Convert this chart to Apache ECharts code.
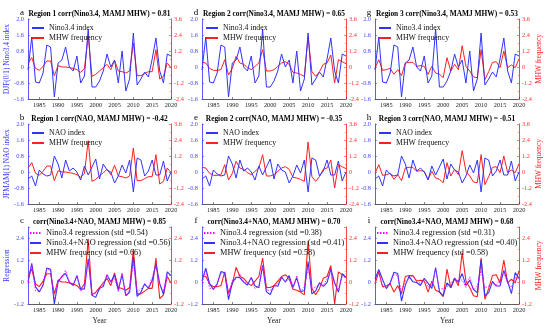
<!DOCTYPE html>
<html><head><meta charset="utf-8">
<script src="https://cdn.jsdelivr.net/npm/echarts@6/dist/echarts.min.js"></script>
<style>html,body{margin:0;padding:0;background:#fff}#c{width:550px;height:331px}</style>
</head><body><div id="c"></div>
<script>
const years = [1982,1983,1984,1985,1986,1987,1988,1989,1990,1991,1992,1993,1994,1995,1996,1997,1998,1999,2000,2001,2002,2003,2004,2005,2006,2007,2008,2009,2010,2011,2012,2013,2014,2015,2016,2017,2018,2019,2020];
const xTicks = [1985,1990,1995,2000,2005,2010,2015,2020];
const leftTicks = [-1.6,-0.8,0,0.8,1.6,2.4];
const leftTickLabels = ['-1.6','-0.8','0','0.8','1.6','2.0'];

const nino = [-0.15,1.5,-0.75,-0.8,-0.3,1.1,1.0,-1.5,0.2,0.35,1.0,0.0,-0.2,0.55,-0.8,-0.45,1.9,-1.0,-1.0,-0.7,-0.2,0.65,0.0,0.35,-0.8,0.8,-1.2,-0.6,1.7,-0.9,-0.6,-0.25,-0.5,0.4,1.45,-0.2,-0.8,0.65,0.55];
const nao = [-0.35,-0.2,-0.7,0.1,-0.1,-0.2,-0.15,0.8,0.4,-0.3,0.6,0.05,0.2,0.0,-0.4,0.3,-0.15,0.25,0.65,-0.35,0.4,0.1,0.0,-0.55,-0.2,0.35,-0.05,0.6,-1.0,0.7,0.6,-0.2,0.05,0.6,-0.15,-0.15,0.55,-0.45,0.0];
const mhw1 = [0.3,0.7,-0.1,-0.25,0.05,0.45,0.45,-0.65,0.1,0.0,0.0,-0.05,-0.1,-0.2,-0.4,-0.1,2.35,-0.7,-0.55,-0.3,-0.05,0.2,-0.2,0.5,-0.3,-0.35,-0.45,-0.3,1.8,-0.65,-0.65,-0.5,-0.35,-0.35,1.3,-0.9,-0.7,0.3,-0.05];
const mhw2 = [0.35,0.3,-0.1,-0.25,-0.25,-0.2,0.55,-0.6,-0.1,0.8,0.3,0.2,-0.05,-0.2,0.05,0.3,1.3,-0.3,-0.3,-0.2,0.05,0.3,0.4,0.2,-0.4,-0.45,-0.55,-0.7,2.25,-0.35,-0.7,-0.35,0.2,0.3,0.9,-1.2,0.55,0.4,0.25];
const mhw3 = [-0.1,0.55,-0.25,-0.2,-0.1,-0.55,-0.2,-0.65,0.3,0.35,0.35,0.05,0.1,0.05,-0.55,0.05,-0.45,-0.55,-0.8,0.7,-0.3,0.2,-0.2,1.6,0.05,-0.3,-0.75,-0.8,1.3,-0.95,-0.35,0.35,0.4,-0.05,1.2,-0.05,0.15,-0.05,0.6];
const reg1Nino = [-0.10,0.95,-0.48,-0.51,-0.19,0.70,0.64,-0.95,0.13,0.22,0.64,0.00,-0.13,0.35,-0.51,-0.29,1.21,-0.64,-0.64,-0.44,-0.13,0.41,0.00,0.22,-0.51,0.51,-0.76,-0.38,1.08,-0.57,-0.38,-0.16,-0.32,0.25,0.92,-0.13,-0.51,0.41,0.35];
const reg1Both = [0.01,1.02,-0.27,-0.54,-0.16,0.76,0.69,-1.20,0.01,0.31,0.46,-0.02,-0.19,0.35,-0.39,-0.38,1.26,-0.72,-0.84,-0.34,-0.25,0.39,0.00,0.39,-0.45,0.41,-0.75,-0.56,1.39,-0.79,-0.56,-0.10,-0.34,0.08,0.97,-0.08,-0.68,0.55,0.35];
const reg2Nino = [-0.07,0.67,-0.34,-0.36,-0.13,0.49,0.45,-0.67,0.09,0.16,0.45,0.00,-0.09,0.25,-0.36,-0.20,0.85,-0.45,-0.45,-0.31,-0.09,0.29,0.00,0.16,-0.36,0.36,-0.54,-0.27,0.76,-0.40,-0.27,-0.11,-0.22,0.18,0.65,-0.09,-0.36,0.29,0.25];
const reg2Both = [0.06,0.75,-0.09,-0.40,-0.10,0.57,0.50,-0.96,-0.05,0.26,0.24,-0.02,-0.16,0.25,-0.22,-0.31,0.91,-0.54,-0.68,-0.19,-0.23,0.26,0.00,0.35,-0.29,0.24,-0.52,-0.48,1.12,-0.65,-0.48,-0.04,-0.24,-0.03,0.71,-0.04,-0.55,0.45,0.25];
const reg3Nino = [-0.05,0.55,-0.27,-0.29,-0.11,0.40,0.37,-0.55,0.07,0.13,0.37,0.00,-0.07,0.20,-0.29,-0.16,0.69,-0.37,-0.37,-0.26,-0.07,0.24,0.00,0.13,-0.29,0.29,-0.44,-0.22,0.62,-0.33,-0.22,-0.09,-0.18,0.15,0.53,-0.07,-0.29,0.24,0.20];
const reg3Both = [0.15,0.68,0.14,-0.36,-0.05,0.53,0.46,-1.04,-0.17,0.31,0.01,-0.03,-0.19,0.20,-0.06,-0.35,0.79,-0.52,-0.76,-0.05,-0.31,0.18,0.00,0.46,-0.18,0.09,-0.41,-0.58,1.23,-0.75,-0.58,0.03,-0.22,-0.21,0.63,0.02,-0.63,0.51,0.20];

const stdLabels = [['0.54','0.56','0.66'],['0.38','0.41','0.58'],['0.31','0.40','0.58']];
const panelLetters = [['a','d','g'],['b','e','h'],['c','f','i']];
const panelTitles = [
  ['Region 1 corr(Nino3.4, MAMJ MHW) = 0.81','Region 2 corr(Nino3.4, MAMJ MHW) = 0.65','Region 3 corr(Nino3.4, MAMJ MHW) = 0.53'],
  ['Region 1 corr(NAO, MAMJ MHW) = -0.42','Region 2 corr(NAO, MAMJ MHW) = -0.35','Region 3 corr(NAO, MAMJ MHW) = -0.51'],
  ['corr(Nino3.4+NAO, MAMJ MHW) = 0.85','corr(Nino3.4+NAO, MAMJ MHW) = 0.70','corr(Nino3.4+NAO, MAMJ MHW) = 0.68']
];
const leftNames = ['DJF(0/1) Nino3.4 index','JFMAM(1) NAO index','Regression'];
const rightName = 'MHW frequency';

const FONT = '"Liberation Serif", "Times New Roman", serif';
const BLUE = '#3333ff', RED = '#ff1f1f', MAG = '#ff00ff', AXB = '#4848ff', AXR = '#ff3030';
const cols = [[28,171],[202,346],[375,519]];
const rows = [[19,99],[124,204],[227,304]];
const pairs = a => years.map((y,i)=>[y,a[i]]);
const mhws = [mhw1,mhw2,mhw3];
const regN = [reg1Nino,reg2Nino,reg3Nino];
const regB = [reg1Both,reg2Both,reg3Both];

const grid=[], xAxis=[], yAxis=[], series=[], legend=[], graphic=[];
for (let r=0;r<3;r++) for (let c=0;c<3;c++){
  const gi = r*3+c;
  const [L,R] = cols[c], [T,B] = rows[r];
  grid.push({left:L, top:T, width:R-L, height:B-T});
  xAxis.push({type:'value', gridIndex:gi, min:1982, max:2020,
    name: r===2?'Year':'', nameLocation:'middle', nameGap:13,
    nameTextStyle:{fontFamily:FONT, fontSize:7.5, color:'#222'},
    axisLine:{onZero:false, lineStyle:{color:'#333', width:0.8}},
    axisTick:{inside:true, length:2, customValues:xTicks, lineStyle:{color:'#333', width:0.6}},
    axisLabel:{customValues:xTicks, fontFamily:FONT, fontSize:6.3, color:'#222', margin:3, formatter: v=>String(v)},
    splitLine:{show:false}});
  const isReg = r===2;
  yAxis.push({type:'value', gridIndex:gi, position:'left',
    min: isReg?-1.2:-1.6, max: isReg?3.0:2.4, interval: isReg?1.2:0.8,
    name: c===0?leftNames[r]:'', nameLocation:'middle', nameGap:9, nameRotate:90,
    nameTextStyle:{fontFamily:FONT, fontSize:7.3, color:BLUE},
    axisLine:{show:true, onZero:false, lineStyle:{color:AXB, width:0.9}},
    axisTick:{show:true, inside:true, length:2, lineStyle:{color:AXB, width:0.6}},
    minorTick:{show:true, splitNumber:2, length:1.2, lineStyle:{color:AXB, width:0.5}},
    axisLabel:{fontFamily:FONT, fontSize:6.3, color:AXB, margin:4, showMaxLabel: !isReg,
      formatter: isReg ? (v=>String(+v.toFixed(1))) : (v=>{const k=leftTicks.findIndex(t=>Math.abs(t-v)<1e-6); return k>=0?leftTickLabels[k]:'';})},
    splitLine:{show:false}});
  yAxis.push({type:'value', gridIndex:gi, position:'right',
    min: isReg?-1.2:-2.4, max: isReg?3.0:3.6, interval:1.2,
    name: c===2?rightName:'', nameLocation:'middle', nameGap:17, nameRotate:90,
    nameTextStyle:{fontFamily:FONT, fontSize:7.3, color:RED},
    axisLine:{show:true, onZero:false, lineStyle:{color:AXR, width:0.9}},
    axisTick:{show:true, inside:true, length:2, lineStyle:{color:AXR, width:0.6}},
    minorTick:{show:true, splitNumber:2, length:1.2, lineStyle:{color:AXR, width:0.5}},
    axisLabel:{fontFamily:FONT, fontSize:6.3, color:AXR, margin:3, showMaxLabel: !isReg,
      formatter: v=>String(+v.toFixed(1))},
    splitLine:{show:false}});
  const ly = 2*gi, ry = 2*gi+1;
  let names;
  if (r<2){
    const idxName = r===0?'Nino3.4 index':'NAO index';
    series.push({type:'line', name:rightName, xAxisIndex:gi, yAxisIndex:ry, data:pairs(mhws[c]), showSymbol:false, symbol:'none', lineStyle:{color:RED, width:1}, itemStyle:{color:RED}, z:2});
    series.push({type:'line', name:idxName, xAxisIndex:gi, yAxisIndex:ly, data:pairs(r===0?nino:nao), showSymbol:false, symbol:'none', lineStyle:{color:BLUE, width:1}, itemStyle:{color:BLUE}, z:3});
    names = [idxName, rightName];
  } else {
    const s = stdLabels[c];
    const n1 = 'Nino3.4 regression (std =' + s[0] + ')';
    const n2 = 'Nino3.4+NAO regression (std =' + s[1] + ')';
    const n3 = 'MHW frequency (std =' + s[2] + ')';
    series.push({type:'line', name:n3, xAxisIndex:gi, yAxisIndex:ry, data:pairs(mhws[c]), showSymbol:false, symbol:'none', lineStyle:{color:RED, width:1.1}, itemStyle:{color:RED}, z:2});
    series.push({type:'line', name:n2, xAxisIndex:gi, yAxisIndex:ly, data:pairs(regB[c]), showSymbol:false, symbol:'none', lineStyle:{color:BLUE, width:1.1}, itemStyle:{color:BLUE}, z:3});
    series.push({type:'line', name:n1, xAxisIndex:gi, yAxisIndex:ly, data:pairs(regN[c]), showSymbol:false, symbol:'none', lineStyle:{color:MAG, width:0.9, type:[1.5,1.5]}, itemStyle:{color:MAG}, z:4});
    names = [n1,n2,n3];
  }
  legend.push({orient:'vertical', left: r<2 ? L+3 : L+1, top: r<2 ? T+5 : T+2, padding:0,
    itemWidth: r<2?12:11, itemHeight: r<2?8:7.5, itemGap: 2, data:names, selectedMode:false,
    itemStyle:{opacity:0},
    textStyle:{fontFamily:FONT, fontSize: r<2?7.8:8.3, color:'#111'}});
  graphic.push({type:'text', x:(L+R)/2, y:T-5, style:{text:panelTitles[r][c], font:'bold 7.4px '+FONT, fill:'#000', align:'center', verticalAlign:'middle', textAlign:'center', textVerticalAlign:'middle'}});
  graphic.push({type:'text', x:L-6, y:T-6, style:{text:panelLetters[r][c], font:'9px '+FONT, fill:'#000', align:'center', verticalAlign:'middle', textAlign:'center', textVerticalAlign:'middle'}});
}

const chart = echarts.init(document.getElementById('c'), null, {renderer:'canvas'});
chart.setOption({animation:false, backgroundColor:'#fff', grid, xAxis, yAxis, series, legend, graphic});
</script></body></html>
